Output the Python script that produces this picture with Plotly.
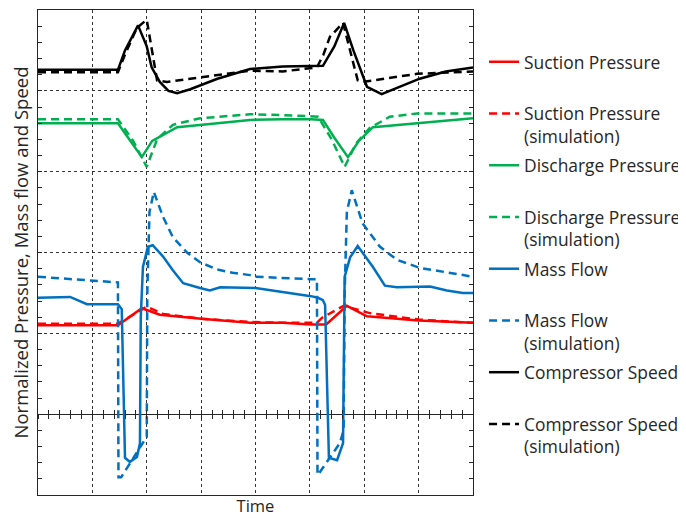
import plotly.graph_objects as go

# ---- data (x in time grid units, y in normalized units) ----
speed_x = [0, 1.47, 1.6, 1.84, 2.0, 2.09, 2.24, 2.4, 2.56, 2.8, 3.3, 3.9, 4.5, 5.02, 5.24, 5.45, 5.63, 5.8, 6.05, 6.32, 6.6, 7.02, 7.5, 8]
speed_y = [4.26, 4.26, 4.5, 4.81, 4.55, 4.29, 4.11, 4.0, 3.97, 4.02, 4.15, 4.27, 4.30, 4.31, 4.31, 4.55, 4.84, 4.5, 4.05, 3.96, 4.04, 4.15, 4.24, 4.29]

speed_sim_x = [0, 1.47, 1.6, 1.82, 2.0, 2.19, 2.37, 3.3, 3.9, 4.5, 5.13, 5.25, 5.37, 5.61, 5.88, 5.97, 6.97, 8]
speed_sim_y = [4.23, 4.23, 4.45, 4.78, 4.88, 4.13, 4.11, 4.2, 4.25, 4.24, 4.29, 4.45, 4.67, 4.84, 4.13, 4.11, 4.21, 4.24]

disch_x = [0, 1.47, 1.7, 1.91, 2.1, 2.56, 3.3, 3.9, 4.5, 5.02, 5.24, 5.45, 5.70, 5.9, 6.16, 7.0, 8]
disch_y = [3.60, 3.60, 3.38, 3.18, 3.38, 3.55, 3.60, 3.64, 3.65, 3.65, 3.64, 3.42, 3.18, 3.38, 3.55, 3.60, 3.66]

disch_sim_x = [0, 1.47, 1.75, 2.0, 2.19, 2.48, 2.98, 3.9, 4.5, 5.15, 5.4, 5.64, 5.85, 6.10, 6.47, 6.97, 8]
disch_sim_y = [3.65, 3.65, 3.38, 3.06, 3.40, 3.58, 3.66, 3.71, 3.70, 3.68, 3.40, 3.06, 3.35, 3.54, 3.68, 3.72, 3.72]

suct_x = [0, 1.47, 1.91, 2.24, 3.0, 3.9, 4.5, 5.02, 5.3, 5.68, 6.05, 7.0, 8]
suct_y = [1.10, 1.10, 1.31, 1.23, 1.18, 1.13, 1.13, 1.11, 1.11, 1.34, 1.21, 1.16, 1.13]

suct_sim_x = [0, 1.47, 2.0, 2.3, 3.0, 3.9, 4.5, 5.13, 5.22, 5.62, 6.1, 7.0, 8]
suct_sim_y = [1.12, 1.12, 1.33, 1.24, 1.18, 1.14, 1.13, 1.13, 1.19, 1.34, 1.25, 1.17, 1.13]

flow_x = [0, 0.59, 0.9, 1.47, 1.54, 1.60, 1.69, 1.82, 1.875, 1.89, 1.93, 2.02, 2.11, 2.3, 2.48, 2.67, 2.98, 3.16, 3.35, 3.9,
          4.0, 5.02, 5.15, 5.24, 5.28, 5.35, 5.50, 5.61, 5.62, 5.64, 5.74, 5.88, 6.16, 6.38, 6.60, 7.21, 7.52, 7.81, 8]
flow_y = [1.44, 1.45, 1.36, 1.36, 1.30, -0.54, -0.59, -0.53, -0.36, 1.2, 1.82, 2.07, 2.09, 1.95, 1.78, 1.62, 1.56, 1.53, 1.57, 1.56,
          1.56, 1.46, 1.44, 1.41, 1.35, -0.54, -0.57, -0.36, 0.6, 1.70, 1.94, 2.08, 1.82, 1.59, 1.57, 1.58, 1.53, 1.50, 1.50]

flow_sim_x = [0, 0.83, 1.47, 1.48, 1.53, 2.0, 2.01, 2.05, 2.13, 2.30, 2.48, 2.74, 2.98, 3.29, 3.58, 3.90, 4.0, 5.02,
              5.13, 5.14, 5.15, 5.55, 5.62, 5.64, 5.68, 5.77, 5.97, 6.29, 6.60, 7.02, 7.52, 8]
flow_sim_y = [1.70, 1.66, 1.63, -0.78, -0.78, -0.28, 1.5, 2.5, 2.75, 2.44, 2.19, 2.00, 1.88, 1.79, 1.75, 1.72, 1.70, 1.67,
              1.67, -0.75, -0.75, -0.36, -0.2, 1.5, 2.5, 2.77, 2.36, 2.07, 1.91, 1.81, 1.75, 1.70]

series = [
    ("Suction Pressure<br> ", suct_x, suct_y, "#FF0000", "solid"),
    ("Suction Pressure<br>(simulation)", suct_sim_x, suct_sim_y, "#FF0000", "8px,5px"),
    ("Discharge Pressure<br> ", disch_x, disch_y, "#00B050", "solid"),
    ("Discharge Pressure<br>(simulation)", disch_sim_x, disch_sim_y, "#00B050", "8px,5px"),
    ("Mass Flow<br> ", flow_x, flow_y, "#0070C0", "solid"),
    ("Mass Flow<br>(simulation)", flow_sim_x, flow_sim_y, "#0070C0", "8px,5px"),
    ("Compressor Speed<br> ", speed_x, speed_y, "#000000", "solid"),
    ("Compressor Speed<br>(simulation)", speed_sim_x, speed_sim_y, "#000000", "8px,5px"),
]

y_title = "Normalized Pressure, Mass flow and Speed"
x_title = "Time"

FONT = "Open Sans"
TXT = "#262626"

fig = go.Figure()
for i, (name, xs, ys, color, dash) in enumerate(series):
    fig.add_trace(go.Scatter(x=xs, y=ys, mode="lines", name=name, legendgroup=f"g{i}",
                             line=dict(color=color, width=2.5, dash=dash)))

# page body has an 8px default margin, so the figure is 8px smaller and shifted
gridcol = "#333333"
fig.update_layout(
    width=678, height=510,
    margin=dict(l=30, r=213, t=2, b=23, autoexpand=False),
    paper_bgcolor="white", plot_bgcolor="white",
    font=dict(family=FONT, size=16, color=TXT),
    showlegend=True,
    legend=dict(x=1.0254, xanchor="left", y=0.93, yanchor="top", traceorder="grouped",
                tracegroupgap=3.5, font=dict(family=FONT, size=17.4, color=TXT),
                bgcolor="rgba(0,0,0,0)", itemwidth=30, valign="top"),
    xaxis=dict(range=[0, 8], dtick=1, tick0=0, showticklabels=False, ticks="",
               showgrid=True, gridcolor=gridcol, griddash="3px,3px", gridwidth=1,
               showline=True, linecolor=TXT, linewidth=1.2, mirror=True, zeroline=False,
               automargin=False,
               title=dict(text=x_title, standoff=5, font=dict(family=FONT, size=16.5, color=TXT))),
    xaxis2=dict(range=[0, 8], matches="x", overlaying="x", anchor="free", position=1/6,
                dtick=0.2, tick0=0, ticks="outside", ticklen=4, tickcolor=TXT,
                showticklabels=False, showgrid=False, showline=False, zeroline=False),
    xaxis3=dict(range=[0, 8], matches="x", overlaying="x", anchor="free", position=1/6,
                dtick=0.2, tick0=0, ticks="inside", ticklen=4, tickcolor=TXT,
                showticklabels=False, showgrid=False, showline=False, zeroline=False),
    yaxis=dict(range=[-1, 5], dtick=1, tick0=0, showticklabels=False, ticks="inside", ticklen=4,
               tickcolor=TXT,
               minor=dict(dtick=0.2, tick0=0, ticks="inside", ticklen=4, tickcolor=TXT, showgrid=False),
               showgrid=True, gridcolor=gridcol, griddash="3px,3px", gridwidth=1,
               showline=True, linecolor=TXT, linewidth=1.2, mirror="allticks",
               zeroline=True, zerolinecolor=TXT, zerolinewidth=1.2, automargin=False,
               title=dict(text=y_title, standoff=8, font=dict(family=FONT, size=18.5, color=TXT))),
)
fig.add_trace(go.Scatter(x=[None], y=[None], xaxis="x2", showlegend=False, hoverinfo="skip"))
fig.add_trace(go.Scatter(x=[None], y=[None], xaxis="x3", showlegend=False, hoverinfo="skip"))

fig.write_html("out.html")
